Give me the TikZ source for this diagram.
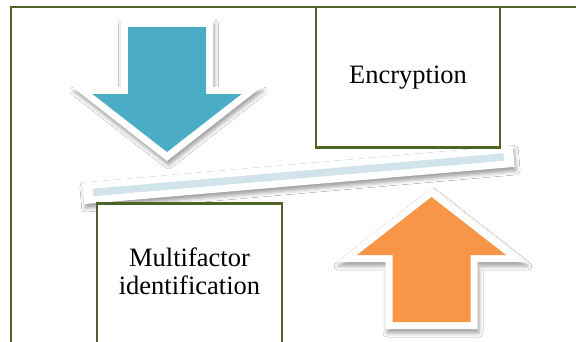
\documentclass[tikz,border=0pt]{standalone}
\usepackage{fontspec}
\setmainfont{Liberation Serif}
\usetikzlibrary{shadows.blur}
\definecolor{framegreen}{HTML}{4F6228}
\definecolor{aqua}{HTML}{4BACC6}
\definecolor{orangeacc}{HTML}{F79646}
\definecolor{stripeblue}{HTML}{D2E4EB}

\begin{document}
\begin{tikzpicture}[x=1pt,y=-1pt,
  softshadow/.style={blur shadow={shadow xshift=1.5pt, shadow yshift=-4pt,
      shadow blur radius=4pt, shadow opacity=38}},
  labelbox/.style={draw=framegreen, line width=2.6pt, fill=white, inner sep=0pt},
  caption/.style={font=\fontsize{26.5}{28.5}\selectfont, align=center, inner sep=0pt}]
\useasboundingbox (0,0) rectangle (576,341);
\clip (0,0) rectangle (576,341);
\fill[white] (0,0) rectangle (576,341);

% outer frame, running off the right and bottom edges
\draw[framegreen, line width=2.6pt] (11,360) -- (11,7) -- (600,7);

% downward arrow: white rim with shadow, then the coloured body
\fill[white, softshadow] (121,20) -- (213,20) -- (213,87) -- (261.6,87)
  -- (167,161) -- (72.4,87) -- (121,87) -- cycle;
\fill[aqua] (128,27) -- (206,27) -- (206,94) -- (241.5,94)
  -- (167,152) -- (92.5,94) -- (128,94) -- cycle;

% upward arrow
\fill[white, softshadow] (385.5,329) -- (477.5,329) -- (477.5,262) -- (526.1,262)
  -- (431.5,188) -- (336.9,262) -- (385.5,262) -- cycle;
\fill[orangeacc] (392.5,322) -- (470.5,322) -- (470.5,255) -- (506,255)
  -- (431.5,197) -- (357,255) -- (392.5,255) -- cycle;

% tilted balance bar
\node (card) [rotate=4.94, fill=white, minimum width=432pt, minimum height=21.5pt,
  inner sep=0pt, softshadow] at (298.5,174.75) {};
\node (stripe) [rotate=4.94, fill=stripeblue, minimum width=412pt, minimum height=7.5pt,
  inner sep=0pt] at (card.center) {};

% labelled boxes
\node (enc) [labelbox, caption, minimum width=184pt, minimum height=140.5pt]
  at (408,77.25) {Encryption};
\node (mfa) [labelbox, minimum width=185pt, minimum height=160pt, anchor=north]
  at (189.5,202) {};
\node (mfatext) [caption] at (189.5,271.3) {Multifactor\\identification};
\end{tikzpicture}
\end{document}
